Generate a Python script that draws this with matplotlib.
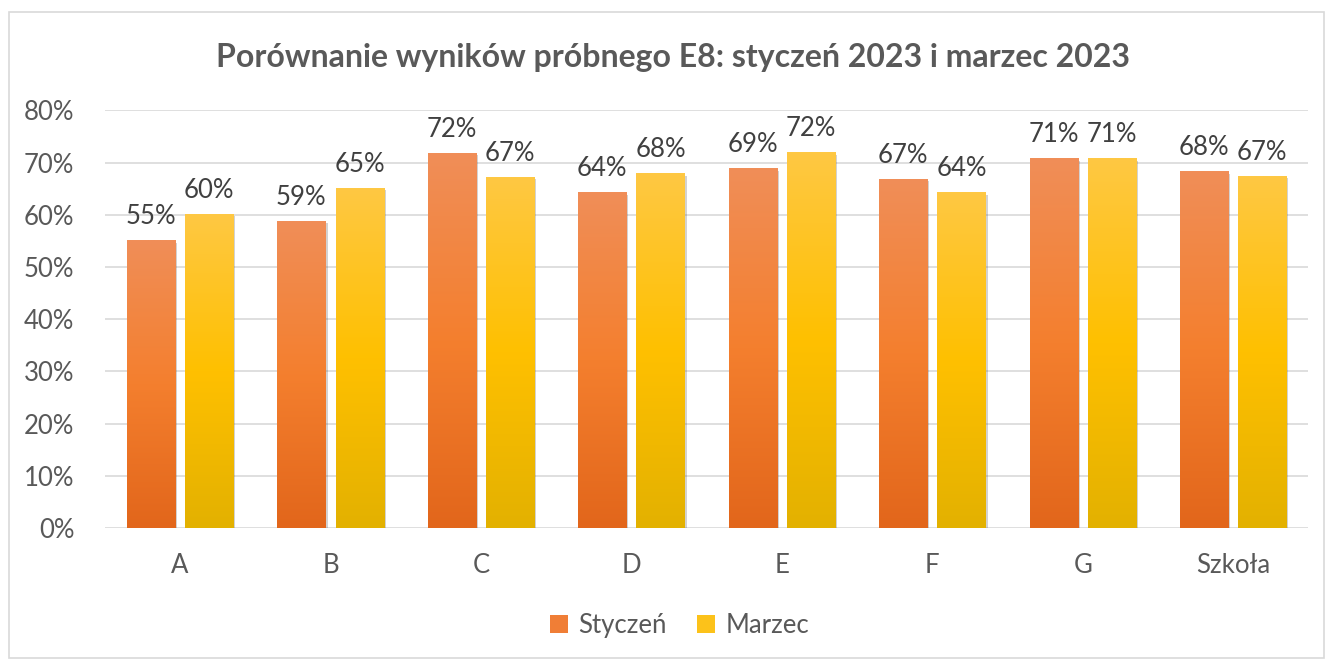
import matplotlib.pyplot as plt
import matplotlib.patheffects as pe
from matplotlib.colors import LinearSegmentedColormap
from matplotlib.patches import Rectangle
import numpy as np

categories = ["A", "B", "C", "D", "E", "F", "G", "Szkoła"]
styczen = [0.551, 0.588, 0.718, 0.643, 0.688, 0.668, 0.708, 0.683]
marzec = [0.601, 0.651, 0.672, 0.679, 0.719, 0.643, 0.708, 0.674]
series_names = ["Styczeń", "Marzec"]

text_color = "#595959"
grid_color = "#D9D9D9"

plt.rcParams['font.family'] = ['Lato', 'DejaVu Sans']

# gradients like Excel: lighter top, darker bottom
orange_cmap = LinearSegmentedColormap.from_list("orange", ["#E2661B", "#F47F2E", "#F08E58"])
yellow_cmap = LinearSegmentedColormap.from_list("yellow", ["#E3B100", "#FFC000", "#FEC843"])

fig = plt.figure(figsize=(13.27, 6.6), dpi=100)
ax = fig.add_axes([0.079, 0.2, 0.907, 0.6326])

x = np.arange(len(categories))
width = 0.32
gap = 0.067
offsets = [-(width + gap) / 2, (width + gap) / 2]

grad = np.linspace(0, 1, 256).reshape(-1, 1)
for vals, off, cmap, name in zip([styczen, marzec], offsets, [orange_cmap, yellow_cmap], series_names):
    bars = ax.bar(x + off, vals, width, color="none", edgecolor="none", zorder=3)
    for b, v in zip(bars, vals):
        bx, by = b.get_x(), b.get_y()
        bw, bh = b.get_width(), b.get_height()
        shadow = Rectangle((bx, by), bw, bh, facecolor="#000000", alpha=0.0, zorder=2,
                           path_effects=[pe.SimplePatchShadow(offset=(1.5, -1.5), alpha=0.25, rho=0.3)])
        ax.add_patch(shadow)
        ax.imshow(grad, cmap=cmap, aspect="auto", origin="lower",
                  extent=[bx, bx + bw, by, by + bh], zorder=3)
        ax.text(bx + bw / 2, v + 0.022, f"{round(v * 100):.0f}%", ha="center", va="bottom",
                fontsize=18.5, color="#404040", zorder=4)

ax.set_xlim(-0.5, len(categories) - 0.5)
ax.set_ylim(0, 0.8)
ax.set_yticks(np.arange(0, 0.81, 0.1))
ax.set_yticklabels([f"{int(round(t * 100))}%" for t in np.arange(0, 0.81, 0.1)])
ax.set_xticks(x)
ax.set_xticklabels(categories)
ax.tick_params(axis="both", length=0, labelsize=18.5, labelcolor=text_color)
ax.tick_params(axis="x", pad=18)
ax.tick_params(axis="y", pad=22)
ax.yaxis.grid(True, color=grid_color, linewidth=1.2, zorder=0)
ax.set_axisbelow(True)
for s in ax.spines.values():
    s.set_visible(False)

fig.text(0.507, 0.913, "Porównanie wyników próbnego E8: styczeń 2023 i marzec 2023",
         ha="center", va="center", fontsize=23, fontweight="bold", color=text_color)

handles = [Rectangle((0, 0), 1, 1, facecolor="#F07E36"), Rectangle((0, 0), 1, 1, facecolor="#FCC21A")]
fig.legend(handles, series_names, loc="center", bbox_to_anchor=(0.512, 0.052), ncol=2,
           frameon=False, fontsize=18.5, labelcolor=text_color, handlelength=0.7,
           handleheight=0.7, handletextpad=0.4, columnspacing=1.2)

# chart border
fig.add_artist(Rectangle((0.007, 0.003), 0.991, 0.979, transform=fig.transFigure,
                         fill=False, edgecolor=grid_color, linewidth=1.2))

fig.savefig("out.png", dpi=100)
